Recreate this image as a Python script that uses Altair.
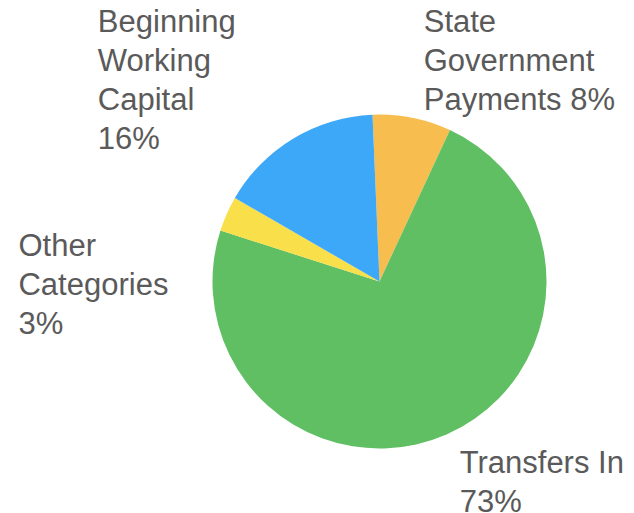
import math
import altair as alt
import pandas as pd

# ---- data ----
categories = ["State Government Payments", "Transfers In", "Other Categories", "Beginning Working Capital"]
shares = [7.6, 73.0, 3.4, 16.0]
wrapped_names = ["State\nGovernment\nPayments", "Transfers In", "Other\nCategories", "Beginning\nWorking\nCapital"]
name_pct_sep = [" ", "\n", "\n", "\n"]
slice_colors = ["#F7BD4F", "#5FBF62", "#F9DF4A", "#3EA8F8"]

labels = [n + s + f"{round(v)}%" for n, s, v in zip(wrapped_names, name_pct_sep, shares)]
df = pd.DataFrame({"idx": list(range(len(categories))), "category": categories,
                   "share": shares, "label": labels})

# ---- layout ----
start = math.radians(-2.4)
theta_scale = alt.Scale(domain=[0, 100], range=[start, start + 2 * math.pi])
cx, cy = 371.5, 273.5
label_r = 175
label_offsets = [(10, -78), (10, 31), (-201, 45), (-191, -100)]

pie = alt.Chart(df).mark_arc(outerRadius=167).encode(
    theta=alt.Theta("share:Q", stack=True, scale=theta_scale),
    color=alt.Color("category:N", scale=alt.Scale(domain=categories, range=slice_colors), legend=None),
    order=alt.Order("idx:Q"),
    x=alt.value(cx),
    y=alt.value(cy),
)

layers = [pie]
for i, (dx, dy) in enumerate(label_offsets):
    t = (
        alt.Chart(df)
        .transform_window(cum="sum(share)", sort=[alt.SortField("idx")], frame=[None, 0])
        .transform_calculate(mid="datum.cum - datum.share / 2")
        .transform_filter(alt.datum.idx == i)
        .mark_text(radius=label_r, dx=dx, dy=dy, align="left", baseline="alphabetic",
                   lineBreak="\n", lineHeight=39, fontSize=31, font="Liberation Sans",
                   color="#5a5a5a")
        .encode(
            theta=alt.Theta("mid:Q", stack=None, scale=theta_scale),
            text="label:N",
            x=alt.value(cx),
            y=alt.value(cy),
        )
    )
    layers.append(t)

chart = (
    alt.layer(*layers)
    .properties(width=618, height=505, padding=0, background="white",
                autosize=alt.AutoSizeParams(type="none"))
    .configure_view(strokeWidth=0)
)

chart.save("out.html", embed_options={"renderer": "svg", "actions": False})
